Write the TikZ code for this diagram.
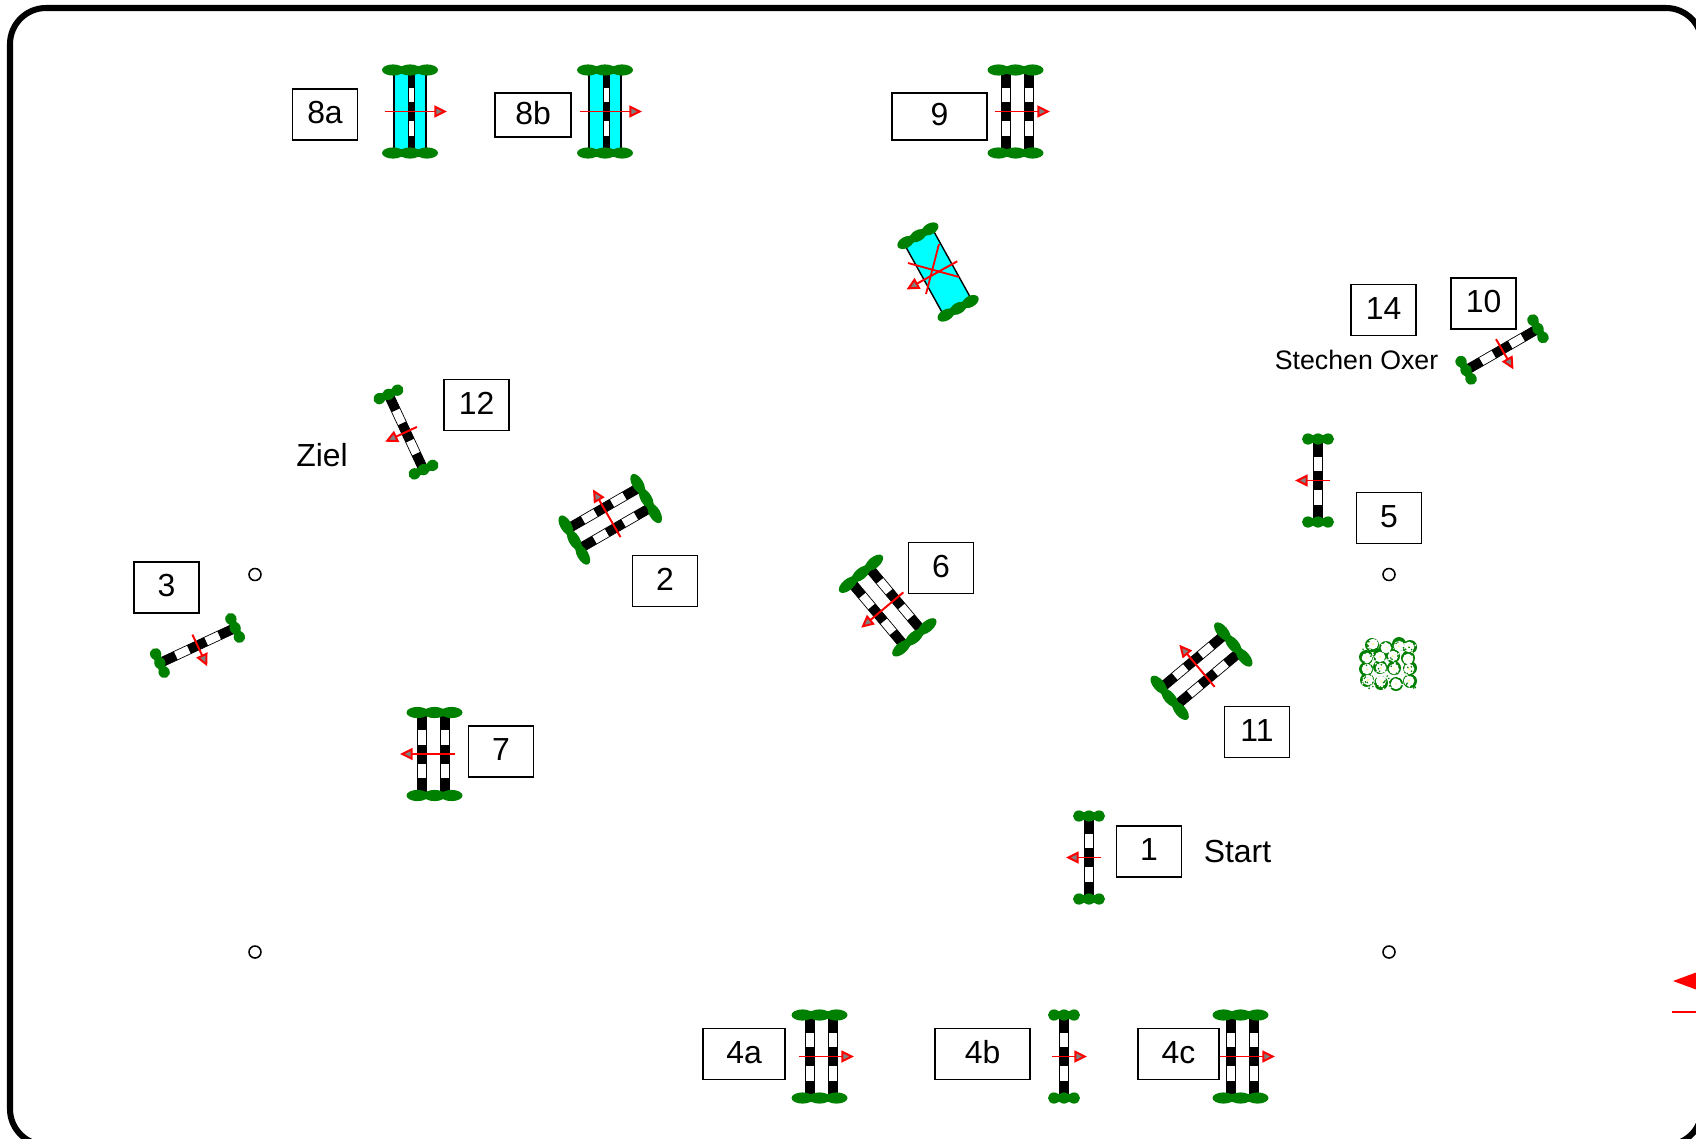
\documentclass[tikz,border=0pt]{standalone}
\usepackage{fontspec}
\setmainfont{Liberation Sans}
\usetikzlibrary{arrows.meta}

\definecolor{shrubgreen}{RGB}{0,128,0}
\definecolor{watercyan}{RGB}{0,255,255}

\newcommand{\shrubrow}[3]{%
  \foreach \sy in {-41.5,41.5} {
    \foreach \sx in {-1,0,1} \fill[shrubgreen] (#3+\sx*#1,\sy) ellipse (#2 and 5.6);
    \fill[shrubgreen] (#3-#1,\sy-3.8) rectangle (#3+#1,\sy+3.8);
  }
}
\newcommand{\railpole}[2]{%
  \draw[line width=0.5pt, fill=white] (#1-#2,-38.5) rectangle (#1+#2,38.5);
  \foreach \ya/\yb in {-38.5/-24,-9.5/9.5,24/38.5} \fill (#1-#2,\ya) rectangle (#1+#2,\yb);
}

\begin{document}
\begin{tikzpicture}[
    x=0.025cm, y=-0.025cm,
    numbox/.style={rectangle, draw, line width=1.2pt, fill=white, inner sep=0pt, text depth=2.8pt, minimum width=1.62cm, minimum height=1.28cm, font=\fontsize{22.7}{26}\selectfont},
    plainlabel/.style={inner sep=0pt, font=\fontsize{22.7}{26}\selectfont},
    marker/.style={circle, draw, line width=1.1pt, fill=white, inner sep=0pt, minimum size=0.3cm},
    jumparrow/.style={draw=red, line width=1.4pt, -{Triangle[length=9pt, width=8.5pt, fill=gray]}},
    crossline/.style={draw=red, line width=1.3pt},
    pics/railjump/.style={code={
        \railpole{0}{4.6}
        \shrubrow{10}{6}{0}
        \draw[jumparrow] (-12,0) -- (23,0);
    }},
    pics/oxerjump/.style={code={
        \railpole{-11.5}{4.6}
        \railpole{11.5}{4.6}
        \shrubrow{17}{11}{-1.5}
        \draw[jumparrow] (-22,0) -- (33,0);
    }},
    pics/waterjump/.style={code={
        \fill[watercyan] (-16,-38.5) rectangle (16,38.5);
        \draw[line width=1pt] (-16,-38.5) -- (-16,38.5) (16,-38.5) -- (16,38.5);
        \railpole{1}{3}
        \shrubrow{17}{11}{0}
        \draw[jumparrow] (-25,0) -- (37,0);
    }},
    pics/waterditch/.style={code={
        \fill[watercyan] (-16,-38.5) rectangle (16,38.5);
        \draw[line width=1pt] (-16,-38.5) -- (-16,38.5) (16,-38.5) -- (16,38.5);
        \shrubrow{14}{9}{0}
        \draw[jumparrow] (-22,0) -- (36,0);
    }}
]
\path[use as bounding box, clip] (0,0) rectangle (1696,1138);

% outer frame, runs off the page on two sides
\draw[line width=4.3pt, rounded corners=0.9cm] (10,8) rectangle (1702,1145);

% jumps
\pic[rotate=180] (j1) at (1089,857.5) {railjump};
\pic[rotate=120] (j2) at (609.5,518) {oxerjump};
\pic[rotate=-65] (j3) at (197.5,645.5) {railjump};
\pic (j4a) at (821,1056.5) {oxerjump};
\pic (j4b) at (1064,1056.5) {railjump};
\pic (j4c) at (1242,1056.5) {oxerjump};
\pic[rotate=180] (j5) at (1318,480.5) {railjump};
\pic[rotate=220] (j6) at (886.5,606.5) {oxerjump};
\pic[rotate=180] (j7) at (433,754) {oxerjump};
\pic (j8a) at (410,111.5) {waterjump};
\pic (j8b) at (605,111.5) {waterjump};
\pic (j9) at (1017,111.5) {oxerjump};
\pic[rotate=-60] (j10) at (1502,349.5) {railjump};
\pic[rotate=130] (j11) at (1200.5,670) {oxerjump};
\pic[rotate=205] (j12) at (406,432) {railjump};
\pic[rotate=209] (jw) at (938,272) {waterditch};

% crossed out
\draw[crossline] (908,263) -- (959,277);
\draw[crossline] (939,244) -- (926,294);

% number boxes
\node[numbox] (n1) at (1149,851.5) {1};
\node[numbox] (n2) at (665,581) {2};
\node[numbox] (n3) at (166.5,587.5) {3};
\node[numbox, minimum width=2.05cm] (n4a) at (744,1054) {4a};
\node[numbox, minimum width=2.37cm] (n4b) at (982.7,1054) {4b};
\node[numbox, minimum width=2.03cm] (n4c) at (1178.5,1054) {4c};
\node[numbox] (n5) at (1389,518) {5};
\node[numbox] (n6) at (941,568) {6};
\node[numbox] (n7) at (501,751.5) {7};
\node[numbox] (n8a) at (325,114.5) {8a};
\node[numbox, minimum width=1.9cm, minimum height=1.1cm] (n8b) at (533,114.7) {8b};
\node[numbox, minimum width=2.39cm, minimum height=1.18cm] (n9) at (939.5,116.4) {9};
\node[numbox] (n10) at (1483.7,303.3) {10};
\node[numbox] (n11) at (1257,732) {11};
\node[numbox] (n12) at (476.5,405) {12};
\node[numbox] (n14) at (1383.5,310) {14};

% free texts
\node[plainlabel] (ziel) at (322,455) {Ziel};
\node[plainlabel] (start) at (1237.5,851) {Start};
\node[plainlabel, font=\fontsize{19}{22}\selectfont] (oxer) at (1356.5,360) {Stechen Oxer};

% course corners
\node[marker] (c1) at (255,574.5) {};
\node[marker] (c2) at (1389,574.5) {};
\node[marker] (c3) at (255,952) {};
\node[marker] (c4) at (1389,952) {};

% flower bush
\foreach \bx/\by in {1372/645,1386/648,1399/644,1410/647,1366/657,1380/655,1393/656,1408/658,1366/669,1380/667,1394/668,1410/668,1367/680,1381/683,1396/684,1410/681}
  \fill[shrubgreen] (\bx,\by) circle (7);
\foreach \bx/\by in {1373/644,1386/648,1399/646,1409/647,1367/658,1380/657,1393/656,1408/659,1367/669,1381/668,1394/669,1409/669,1368/680,1381/681,1396/684,1409/681} {
  \fill[white] (\bx,\by) circle (5.3);
  \fill[yellow!50] (\bx,\by) circle (1.1);
}
\pgfmathsetseed{17}
\foreach \i in {1,...,110} \fill[white] (1362+54*rnd,641+48*rnd) circle (1);
\foreach \i in {1,...,70} \fill[shrubgreen] (1362+54*rnd,641+48*rnd) circle (0.9);

% north arrow, cut off by the page edge
\fill[red] (1673,981) -- (1700,971) -- (1700,991) -- cycle;
\draw[red, line width=1pt] (1672,1012) -- (1700,1012);
\end{tikzpicture}
\end{document}
